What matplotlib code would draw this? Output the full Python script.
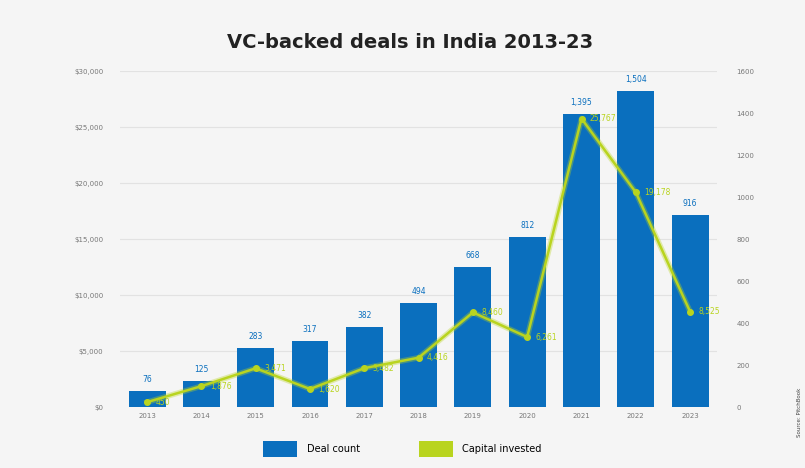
import matplotlib.pyplot as plt
from matplotlib.patches import Patch

years = ["2013", "2014", "2015", "2016", "2017", "2018",
         "2019", "2020", "2021", "2022", "2023"]
deal_count = [76, 125, 283, 317, 382, 494, 668, 812, 1395, 1504, 916]
capital_invested = [450, 1876, 3471, 1620, 3482, 4416, 8460, 6261, 25767, 19178, 8525]

BLUE = "#0a6fbe"
GREEN = "#b9d41f"
BG = "#f5f5f5"

fig = plt.figure(figsize=(8.05, 4.68), dpi=100, facecolor=BG)
ax = fig.add_axes([0.149, 0.130, 0.742, 0.718])  # capital (left axis)
ax2 = ax.twinx()                                 # deal count (right axis)
ax.set_facecolor(BG)

x = list(range(len(years)))

# bars on the right axis, behind the line
ax2.bar(x, deal_count, width=0.68, color=BLUE, zorder=2)
for xi, v in zip(x, deal_count):
    ax2.annotate(f"{v:,}", (xi, v), xytext=(0, 5), textcoords="offset points",
                 ha="center", va="bottom", fontsize=5.5, color=BLUE)
ax2.set_ylim(0, 1600)
ax2.set_yticks(range(0, 1601, 200))

# line on the left axis, drawn above the bars
ax.set_zorder(ax2.get_zorder() + 1)
ax.patch.set_visible(False)
ax.plot(x, capital_invested, color=GREEN, lw=4, alpha=0.35, zorder=3)
ax.plot(x, capital_invested, color=GREEN, lw=1.8, marker="o", ms=4, zorder=4)
for xi, v in zip(x, capital_invested):
    ax.annotate(f"{v:,}", (xi, v), xytext=(6, 0), textcoords="offset points",
                ha="left", va="center", fontsize=5.5, color=GREEN)
ax.set_ylim(0, 30000)
ax.set_yticks(range(0, 30001, 5000))
ax.set_yticklabels([f"${v:,}" for v in range(0, 30001, 5000)])
ax.set_xlim(-0.5, len(years) - 0.5)
ax.set_xticks(x)
ax.set_xticklabels(years)

# grid follows the left axis, drawn on the back axes
for v in range(5000, 30001, 5000):
    ax2.axhline(v / 30000 * 1600, color="#e2e2e2", lw=0.8, zorder=0)

for a in (ax, ax2):
    for s in a.spines.values():
        s.set_visible(False)
    a.tick_params(length=0, labelsize=5, labelcolor="#777777")
ax.tick_params(axis="y", pad=12)
ax2.tick_params(axis="y", pad=14)
ax.tick_params(axis="x", pad=4)

fig.text(0.51, 0.91, "VC-backed deals in India 2013-23", ha="center", va="center",
         fontsize=14, fontweight="bold", color="#222222")

handles = [Patch(facecolor=BLUE), Patch(facecolor=GREEN)]
fig.legend(handles, ["Deal count", "Capital invested"], loc="center",
           bbox_to_anchor=(0.50, 0.04), ncol=2, frameon=False, fontsize=7,
           handlelength=3.5, handleheight=2.2, columnspacing=6, handletextpad=1)

fig.text(0.993, 0.12, "Source: PitchBook", rotation=90, ha="center", va="center",
         fontsize=4, color="#444444")

fig.savefig("out.png", dpi=100, facecolor=BG)
